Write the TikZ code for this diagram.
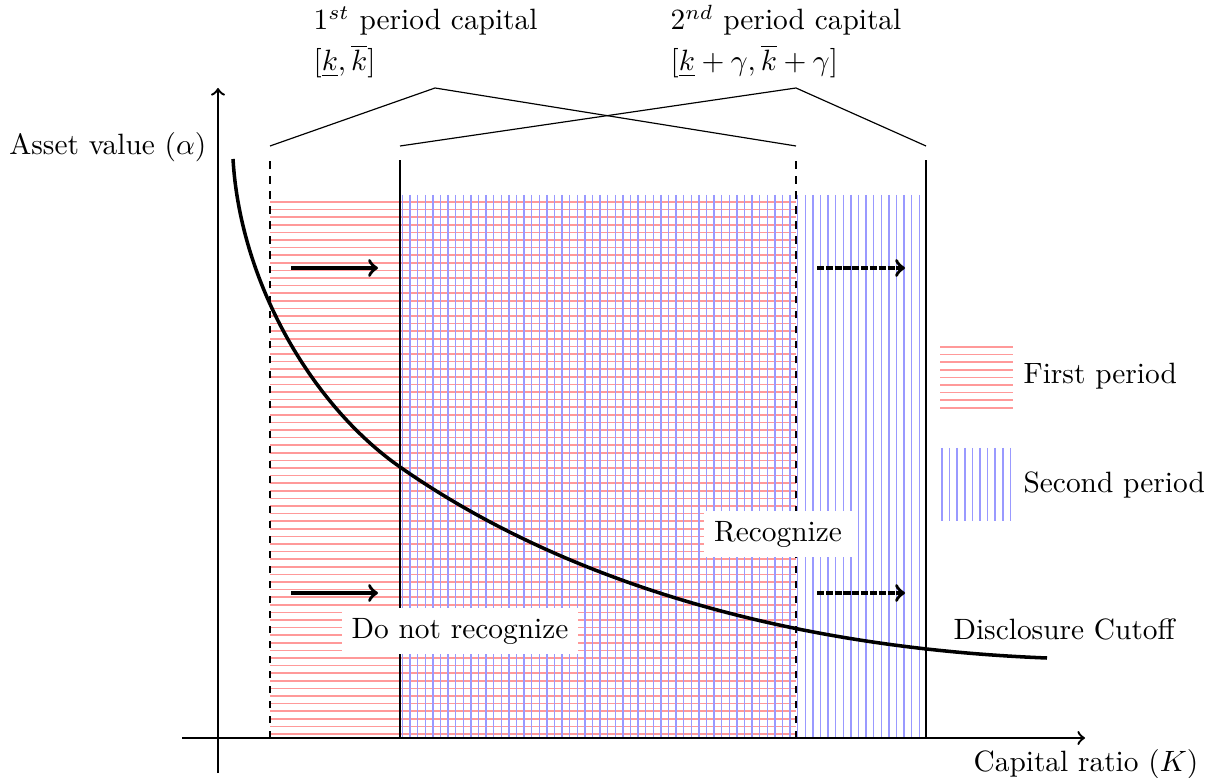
\documentclass[tikz,border=0pt]{standalone}
\usetikzlibrary{arrows}
\tikzset{
  lbl_n/.style = {inner sep=0pt, font=\normalsize},
  box_n/.style = {fill=white, inner sep=3.4pt},% white box over the hatching
  axis_e/.style = {thick, ->},
  cap_e/.style = {line width=1pt},
  capd_e/.style = {line width=1pt, dash pattern=on 2.5pt off 2.6pt},
  brace_e/.style = {thin},
  cut_e/.style = {very thick},
  shift_e/.style = {very thick, ->},
  shiftd_e/.style = {very thick, ->, dash pattern=on 2.4pt off 0.6pt},
  first_h/.style = {red!40, line width=0.5pt},% first period, horizontal
  second_h/.style = {blue!40, line width=0.5pt},% second period, vertical
}
\begin{document}
\begin{tikzpicture}[x=0.01196cm, y=-0.01196cm]
\useasboundingbox (0,0) rectangle (1219,778);

% hatching of the two capital ranges
\foreach \i in {0,...,70}
  \draw[first_h] (270,{202+7.6*\i}) -- (796,{202+7.6*\i});
\foreach \i in {0,...,68}
  \draw[second_h] ({402.5+7.6*\i},195) -- ({402.5+7.6*\i},738);

% axes
\coordinate (y_lo) at (218,773);
\coordinate (y_hi) at (218,88);
\coordinate (x_lo) at (182,738);
\coordinate (x_hi) at (1085,738);
\draw[axis_e] (y_lo) -- (y_hi);
\draw[axis_e] (x_lo) -- (x_hi);
\node[lbl_n, anchor=base east] (ylab) at (207,155) {Asset value ($\alpha$)};
\node[lbl_n, anchor=base west] (xlab) at (973,771) {Capital ratio ($K$)};

% capital bounds
\coordinate (k1_top) at (270,160);  \coordinate (k1_bot) at (270,738);
\coordinate (k2_top) at (400,160);  \coordinate (k2_bot) at (400,738);
\coordinate (k3_top) at (796,160);  \coordinate (k3_bot) at (796,738);
\coordinate (k4_top) at (926,160);  \coordinate (k4_bot) at (926,738);
\draw[capd_e] (k1_bot) -- (k1_top);
\draw[cap_e] (k2_bot) -- (k2_top);
\draw[capd_e] (k3_bot) -- (k3_top);
\draw[cap_e] (k4_bot) -- (k4_top);

% braces to the labels
\coordinate (b1_l) at (270,146); \coordinate (b1_t) at (435,88); \coordinate (b1_r) at (796,146);
\coordinate (b2_l) at (400,146); \coordinate (b2_t) at (796,88); \coordinate (b2_r) at (926,146);
\draw[brace_e] (b1_l) -- (b1_t) -- (b1_r);
\draw[brace_e] (b2_l) -- (b2_t) -- (b2_r);
\node[lbl_n, anchor=base west, align=left] (p1) at (313,71)
  {$1^{st}$ period capital\\[2pt] $[\underline{k},\overline{k}]$};
\node[lbl_n, anchor=base west, align=left] (p2) at (670,71)
  {$2^{nd}$ period capital\\[2pt] $[\underline{k}+\gamma,\overline{k}+\gamma]$};

% shifts
\coordinate (s1_a) at (291,268); \coordinate (s1_b) at (378,268);
\coordinate (s2_a) at (291,593); \coordinate (s2_b) at (378,593);
\coordinate (s3_a) at (817,268); \coordinate (s3_b) at (905,268);
\coordinate (s4_a) at (817,593); \coordinate (s4_b) at (905,593);
\draw[shift_e] (s1_a) -- (s1_b);
\draw[shift_e] (s2_a) -- (s2_b);
\draw[shiftd_e] (s3_a) -- (s3_b);
\draw[shiftd_e] (s4_a) -- (s4_b);

% cutoff
\coordinate (c_0) at (233,159);
\coordinate (c_1) at (400,467);
\coordinate (c_2) at (1047,658);
\draw[cut_e] (c_0) .. controls (240,280) and (310,404) .. (c_1)
  .. controls (550,572) and (767,647) .. (c_2);
\node[lbl_n, anchor=base west] (cutlab) at (953,639) {Disclosure Cutoff};

\node[box_n, anchor=base] (rec) at (778,541) {Recognize};
\node[box_n, anchor=base] (norec) at (460,638) {Do not recognize};

% legend
\foreach \i in {0,...,8}
  \draw[first_h] (940,{347+7.6*\i}) -- (1013,{347+7.6*\i});
\foreach \i in {0,...,9}
  \draw[second_h] ({942+7.6*\i},448) -- ({942+7.6*\i},521);
\node[lbl_n, anchor=base west] (leg1) at (1023,384) {First period};
\node[lbl_n, anchor=base west] (leg2) at (1023,492) {Second period};
\end{tikzpicture}
\end{document}
